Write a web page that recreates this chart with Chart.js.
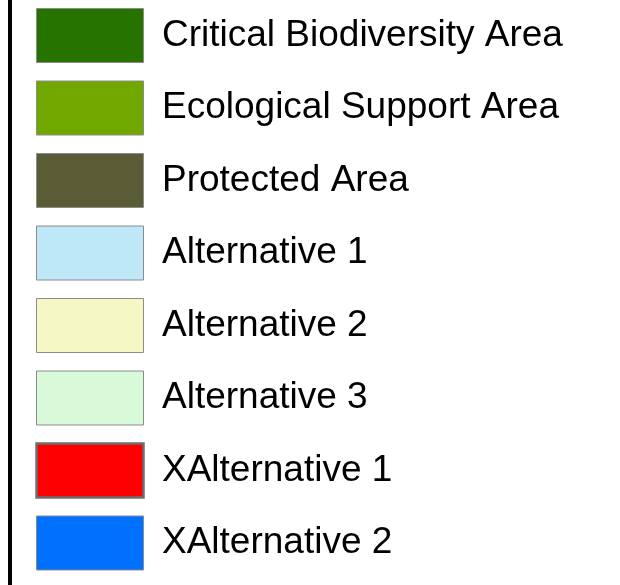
<!DOCTYPE html>
<html>
<head>
<meta charset="utf-8">
<script src="https://cdn.jsdelivr.net/npm/chart.js@4"></script>
<style>
  html, body { margin: 0; padding: 0; background: #fff; overflow: hidden; }
  #bar { position: absolute; left: 8px; top: 0; width: 4px; height: 585px; background: #000; }
  #wrap { position: absolute; left: 0; top: -10px; width: 620px; height: 600px; }
</style>
</head>
<body>
<div id="bar"></div>
<div id="wrap"><canvas id="c"></canvas></div>
<script>
const categories = [
  "Critical Biodiversity Area",
  "Ecological Support Area",
  "Protected Area",
  "Alternative 1",
  "Alternative 2",
  "Alternative 3",
  "XAlternative 1",
  "XAlternative 2"
];
const fillColors = ["#267300", "#70A800", "#5A5C35", "#BEE8F7", "#F5F7C5", "#D8FAD8", "#FF0000", "#0070FF"];
const edgeColors = ["#8c8c8c", "#8c8c8c", "#8c8c8c", "#8c8c8c", "#8c8c8c", "#8c8c8c", "#6e6e6e", "#8c8c8c"];
const edgeWidths = [1, 1, 1, 1, 1, 1, 2.5, 1];

const datasets = categories.map((name, i) => ({
  label: name,
  data: [],
  backgroundColor: fillColors[i],
  borderColor: edgeColors[i],
  borderWidth: edgeWidths[i]
}));

new Chart(document.getElementById('c'), {
  type: 'bar',
  data: { labels: [], datasets },
  options: {
    responsive: true,
    maintainAspectRatio: false,
    animation: false,
    events: [],
    layout: { padding: { left: 18, top: 0, right: 0, bottom: 0 } },
    scales: { x: { display: false }, y: { display: false } },
    plugins: {
      tooltip: { enabled: false },
      legend: {
        position: 'top',
        align: 'start',
        maxHeight: 600,
        labels: {
          boxWidth: 107,
          boxHeight: 54,
          padding: 18.5,
          color: '#000',
          font: { family: '"Liberation Sans", Arial, sans-serif', size: 37 }
        }
      }
    }
  }
});
</script>
</body>
</html>
